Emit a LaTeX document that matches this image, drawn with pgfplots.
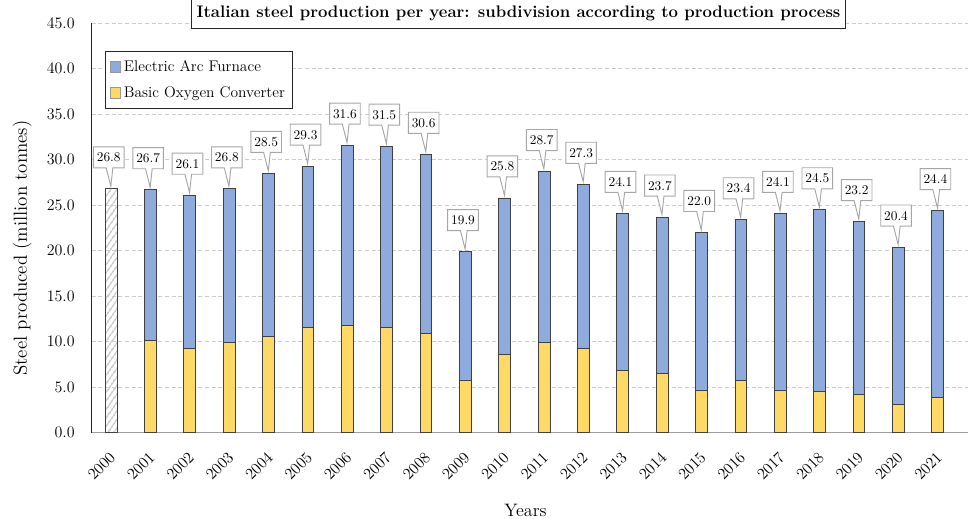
\documentclass[border=0pt]{standalone}
\usepackage{pgfplots}
\usepackage{pgfplotstable}
\pgfplotsset{compat=1.18}
\usetikzlibrary{shapes.callouts,patterns.meta}

\definecolor{eafblue}{HTML}{8FAADC}
\definecolor{bofyellow}{HTML}{FFD966}
\definecolor{barline}{HTML}{404040}

% small square legend swatch
\pgfplotsset{sqlegend/.style={legend image code/.code={%
  \draw[##1, draw=gray!80, line width=0.6pt] (0pt,-4pt) rectangle (8pt,4pt);}}}

% shared plot area of the bar axis and the label axis
\pgfplotsset{steelframe/.style={
  scale only axis,
  width=657.2pt, height=307pt,
  xmin=-0.49, xmax=21.77,
  ymin=0, ymax=45}}

% idx: 0 = 2000 ... 21 = 2021; values in million tonnes
% hatch: total only (no split by process); bof + eaf = total
\pgfplotstableread{
idx hatch bof  eaf  total
0   26.8  0    0    26.8
1   0     10.1 16.6 26.7
2   0     9.3  16.8 26.1
3   0     9.9  16.9 26.8
4   0     10.6 17.9 28.5
5   0     11.6 17.7 29.3
6   0     11.8 19.8 31.6
7   0     11.6 19.9 31.5
8   0     10.9 19.7 30.6
9   0     5.8  14.1 19.9
10  0     8.6  17.2 25.8
11  0     9.9  18.8 28.7
12  0     9.3  18.0 27.3
13  0     6.8  17.3 24.1
14  0     6.5  17.2 23.7
15  0     4.7  17.3 22.0
16  0     5.7  17.7 23.4
17  0     4.7  19.4 24.1
18  0     4.5  20.0 24.5
19  0     4.2  19.0 23.2
20  0     3.1  17.3 20.4
21  0     3.9  20.5 24.4
}\steeldata

\begin{document}
\begin{tikzpicture}
\begin{axis}[
  steelframe,
  ybar stacked,
  bar width=0.3,
  ytick={0,5,...,45},
  xtick={0,...,21},
  xticklabels={2000,2001,2002,2003,2004,2005,2006,2007,2008,2009,2010,2011,2012,2013,2014,2015,2016,2017,2018,2019,2020,2021},
  axis x line*=bottom,
  axis y line*=left,
  x axis line style={draw=gray!75, line width=0.8pt},
  y axis line style={draw=black!85, line width=0.7pt},
  major tick length=0pt,
  ymajorgrids,
  major grid style={draw=gray!40, dash pattern=on 3pt off 2pt, line width=0.5pt},
  yticklabel style={
    /pgf/number format/.cd, fixed, fixed zerofill, precision=1,
    /tikz/.cd, font=\fontsize{12}{14}\selectfont, xshift=-9.3pt},
  xticklabel style={xshift=3.7pt, yshift=-14.3pt, rotate=45, anchor=east,
    font=\fontsize{12}{14}\selectfont},
  xlabel={Years},
  ylabel={Steel produced (million tonnes)},
  xlabel style={at={(axis description cs:0.495,-0.191)}, anchor=center,
    font=\fontsize{13.5}{16}\selectfont},
  ylabel style={at={(axis description cs:-0.0795,0.451)}, anchor=center,
    font=\fontsize{14.2}{16}\selectfont},
  title={Italian steel production per year: subdivision according to production process},
  title style={at={(axis description cs:0.487,1)}, anchor=center, yshift=1.2pt,
    draw=black!85, fill=white, inner xsep=4pt, inner ysep=5pt,
    text height=9pt, text depth=3pt,
    font=\fontsize{12.55}{14}\selectfont\bfseries},
  legend style={at={(rel axis cs:0.0148,0.932)}, anchor=north west,
    draw=black!85, line width=0.6pt, fill=white,
    font=\fontsize{11.6}{13}\selectfont, inner xsep=3.5pt, inner ysep=4.5pt,
    row sep=6pt, cells={anchor=west}},
  reverse legend,
]
% 2000: total production only, hatched
\addplot[forget plot, draw=barline, line width=0.6pt,
  pattern={Lines[angle=55, distance=4pt, line width=1.2pt]}, pattern color=gray!45]
  table[x=idx, y=hatch] {\steeldata};
% Basic oxygen converter
\addplot[fill=bofyellow, draw=barline, line width=0.6pt, sqlegend]
  table[x=idx, y=bof] {\steeldata};
% Electric arc furnace
\addplot[fill=eafblue, draw=barline, line width=0.6pt, sqlegend]
  table[x=idx, y=eaf] {\steeldata};
\legend{Basic Oxygen Converter, Electric Arc Furnace}
\end{axis}

% yearly totals as callouts above the bars
\begin{axis}[steelframe, hide axis]
\addplot[draw=none, mark=none,
  point meta=explicit,
  nodes near coords={\pgfmathprintnumber[fixed,fixed zerofill,precision=1]{\pgfplotspointmeta}},
  every node near coord/.append style={rectangle callout, draw=gray!70, line width=0.7pt,
    fill=white, text=black, font=\fontsize{10.3}{12}\selectfont,
    inner xsep=2.6pt, inner ysep=4.5pt, text height=6.8pt, text depth=0pt,
    callout relative pointer={(1pt,-13.8pt)}, callout pointer width=5pt,
    anchor=pointer}]
  table[x=idx, y=total, meta=total] {\steeldata};
\end{axis}

\pgfresetboundingbox
\path ([shift={(-68.8pt,-64.7pt)}]current axis.south west)
  rectangle ([shift={(0pt,17.5pt)}]current axis.north east);
\end{tikzpicture}
\end{document}
